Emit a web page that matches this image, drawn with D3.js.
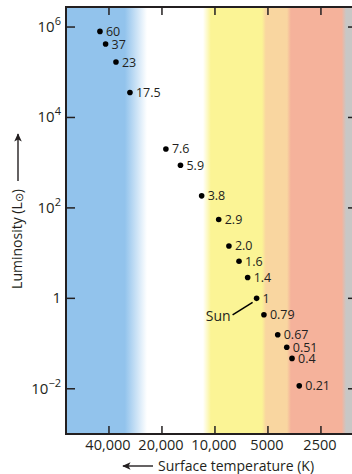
<!DOCTYPE html>
<html><head><meta charset="utf-8">
<script src="https://cdn.jsdelivr.net/npm/d3@7"></script>
<style>body{margin:0;background:#fff;}svg{display:block;font-family:"Open Sans",sans-serif;fill:#231f20;}</style>
</head><body>
<svg id="c" width="352" height="474"></svg>
<script>
// Star masses (solar masses), surface temperatures (K), luminosities (L_sun)
const masses = ["60","37","23","17.5","7.6","5.9","3.8","2.9","2.0","1.6","1.4","1","0.79","0.67","0.51","0.4","0.21"];
const temps = [45000,41800,36500,30400,19000,15700,11900,9520,8330,7300,6520,5800,5270,4400,3910,3650,3320];
const lums = [8.0e5,4.2e5,1.68e5,3.56e4,2010,875,185,55.6,14.4,6.6,2.9,1,0.435,0.157,0.083,0.047,0.0116];
const xTicks = [40000,20000,10000,5000,2500];
const xTickLabels = ["40,000","20,000","10,000","5000","2500"];
const yTickExps = [6,4,2,0,-2];
// background colour bands: temperature stops and colours
const bandTemps = [70170,32500,24300,11700,10550,5410,5140,3900,3700,1907,1800,1560];
const bandColors = ["#92c3ec","#92c3ec","#ffffff","#ffffff","#fbf495","#fbf495","#f9d6a0","#f9d6a0","#f5b29b","#f5b29b","#c8c7c6","#c8c7c6"];

const svg = d3.select("#c");
const L = 66, R = 357, T = 7, B = 434;
const x = d3.scaleLog().domain([70170,1560]).range([L,R]);
const y = d3.scaleLog().domain([1e-3, Math.pow(10,6.443)]).range([B,T]);

const defs = svg.append("defs");
const grad = defs.append("linearGradient").attr("id","bands")
  .attr("gradientUnits","userSpaceOnUse").attr("x1",L).attr("x2",R).attr("y1",0).attr("y2",0);
bandTemps.forEach((t,i)=>{
  grad.append("stop").attr("offset",((x(t)-L)/(R-L)).toFixed(4)).attr("stop-color",bandColors[i]);
});
svg.append("rect").attr("x",L).attr("y",T).attr("width",R-L).attr("height",B-T).attr("fill","url(#bands)");

const ink = "#231f20";
// frame
svg.append("path").attr("d",`M${R},${T}H${L}V${B}H${R}`).attr("fill","none").attr("stroke",ink).attr("stroke-width",2);

// x ticks top & bottom (inward)
xTicks.forEach((t,i)=>{
  const xx = x(t);
  svg.append("line").attr("x1",xx).attr("x2",xx).attr("y1",B).attr("y2",B-8).attr("stroke",ink).attr("stroke-width",1.5);
  svg.append("line").attr("x1",xx).attr("x2",xx).attr("y1",T).attr("y2",T+8).attr("stroke",ink).attr("stroke-width",1.5);
  svg.append("text").attr("x",xx-1).attr("y",450).attr("text-anchor","middle").attr("font-size",14.5).text(xTickLabels[i]);
});
// y ticks left & right
yTickExps.forEach(e=>{
  const yy = y(Math.pow(10,e));
  svg.append("line").attr("x1",L).attr("x2",L+9).attr("y1",yy).attr("y2",yy).attr("stroke",ink).attr("stroke-width",1.5);
  svg.append("line").attr("x1",R).attr("x2",R-9).attr("y1",yy).attr("y2",yy).attr("stroke",ink).attr("stroke-width",1.5);
  const t = svg.append("text").attr("x",61).attr("y",yy+5).attr("text-anchor","end").attr("font-size",15);
  if (e===0) { t.text("1"); }
  else {
    t.append("tspan").text("10");
    t.append("tspan").attr("font-size",11).attr("dy",-7).text(e<0?"\u2212"+(-e):String(e));
  }
});

// points
const pts = masses.map((m,i)=>({m, t:temps[i], l:lums[i]}));
svg.selectAll("circle.pt").data(pts).join("circle").attr("class","pt")
  .attr("cx",d=>x(d.t)).attr("cy",d=>y(d.l)).attr("r",2.8).attr("fill","#000");
svg.selectAll("text.pl").data(pts).join("text").attr("class","pl")
  .attr("x",d=>x(d.t)+6).attr("y",d=>y(d.l)+4.5).attr("font-size",12.5).text(d=>d.m);

// Sun label
const sun = pts[11];
svg.append("line").attr("x1",x(sun.t)-4).attr("y1",y(sun.l)+4).attr("x2",x(sun.t)-24).attr("y2",y(sun.l)+16.5)
  .attr("stroke","#000").attr("stroke-width",1.6);
svg.append("text").attr("x",x(sun.t)-26).attr("y",y(sun.l)+23).attr("text-anchor","end").attr("font-size",14).text("Sun");

// arrow marker
defs.append("marker").attr("id","ah").attr("viewBox","0 0 10 10").attr("refX",9).attr("refY",5)
  .attr("markerWidth",6).attr("markerHeight",6).attr("markerUnits","strokeWidth").attr("orient","auto")
  .append("path").attr("d","M10,5L0,0.5L2.5,5L0,9.5Z").attr("fill",ink);

// x title with arrow
svg.append("text").attr("x",158).attr("y",471).attr("font-size",14).text("Surface temperature (K)");
svg.append("line").attr("x1",153).attr("y1",466).attr("x2",123).attr("y2",466).attr("stroke",ink).attr("stroke-width",1.4)
  .attr("marker-end","url(#ah)");

// y title with arrow
const yt = svg.append("text").attr("transform","translate(22,239) rotate(-90)").attr("text-anchor","middle").attr("font-size",14);
yt.append("tspan").text("Luminosity (L");
yt.append("tspan").attr("font-size",11).attr("dy",1).text("\u2299");
yt.append("tspan").attr("dy",-1).text(")");
svg.append("line").attr("x1",18).attr("y1",181).attr("x2",18).attr("y2",134).attr("stroke",ink).attr("stroke-width",1.4)
  .attr("marker-end","url(#ah)");
</script>
</body></html>
